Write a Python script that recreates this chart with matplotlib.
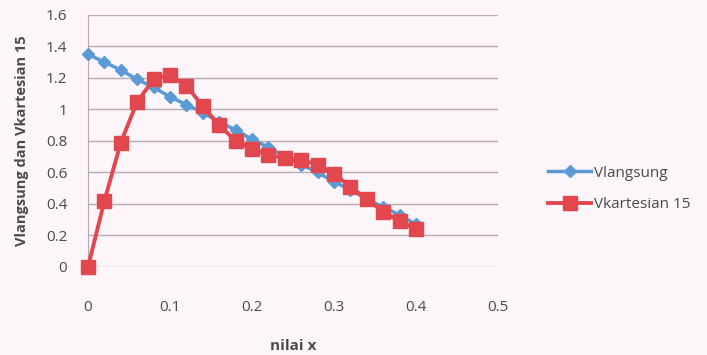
import matplotlib
matplotlib.use("Agg")
import matplotlib.pyplot as plt

# data
x_vals = [0, 0.02, 0.04, 0.06, 0.08, 0.10, 0.12, 0.14, 0.16, 0.18, 0.20,
          0.22, 0.24, 0.26, 0.28, 0.30, 0.32, 0.34, 0.36, 0.38, 0.40]
v_langsung = [1.35, 1.30, 1.25, 1.19, 1.14, 1.08, 1.03, 0.98, 0.92, 0.87, 0.81,
              0.76, 0.70, 0.65, 0.60, 0.54, 0.49, 0.43, 0.38, 0.33, 0.27]
v_kartesian = [0.0, 0.42, 0.79, 1.05, 1.19, 1.22, 1.15, 1.02, 0.90, 0.80, 0.75,
               0.71, 0.69, 0.68, 0.65, 0.59, 0.51, 0.43, 0.35, 0.29, 0.24]
x_ticks = [0, 0.1, 0.2, 0.3, 0.4, 0.5]
y_ticks = [0, 0.2, 0.4, 0.6, 0.8, 1.0, 1.2, 1.4, 1.6]
y_tick_labels = ["0", "0.2", "0.4", "0.6", "0.8", "1", "1.2", "1.4", "1.6"]

bg = "#fcf5fa"
txt = "#4a4a4a"
fs = 11
plt.rcParams["font.family"] = ["Open Sans", "DejaVu Sans"]

fig = plt.figure(figsize=(7.07, 3.55), dpi=100, facecolor=bg)
ax = fig.add_axes([0.1245, 0.248, 0.58, 0.71])
ax.set_facecolor(bg)

ax.plot(x_vals, v_langsung, color="#5b9bd5", lw=2.5, marker="D", ms=6.5,
        mec="#5b9bd5", label="Vlangsung", zorder=3, clip_on=False)
ax.plot(x_vals, v_kartesian, color="#e2474d", lw=2.8, marker="s", ms=10,
        mec="#e2474d", label="Vkartesian 15", zorder=4, clip_on=False)

ax.set_xlim(0, 0.5)
ax.set_ylim(0, 1.6)
ax.set_xticks(x_ticks)
ax.set_xticklabels([f"{t:g}" for t in x_ticks])
ax.set_yticks(y_ticks)
ax.set_yticklabels(y_tick_labels)
ax.grid(axis="y", color="#b4acb2", lw=1)
ax.set_axisbelow(True)
for s in ["top", "right", "bottom"]:
    ax.spines[s].set_visible(False)
ax.spines["left"].set_color("#b4acb2")
ax.tick_params(length=0, colors=txt, labelsize=fs)
ax.tick_params(axis="x", pad=24)
ax.tick_params(axis="y", pad=15)

ax.set_xlabel("nilai x", fontsize=fs, fontweight="bold", color=txt, labelpad=17)
ax.set_ylabel("Vlangsung dan Vkartesian 15", fontsize=10.5, fontweight="bold",
              color=txt, labelpad=12)

fig.legend(loc="center left", bbox_to_anchor=(0.756, 0.468), frameon=False,
           fontsize=fs, handlelength=2.8, labelspacing=1.05, handletextpad=0.2,
           labelcolor=txt)

fig.savefig("out.png", dpi=100, facecolor=bg)
